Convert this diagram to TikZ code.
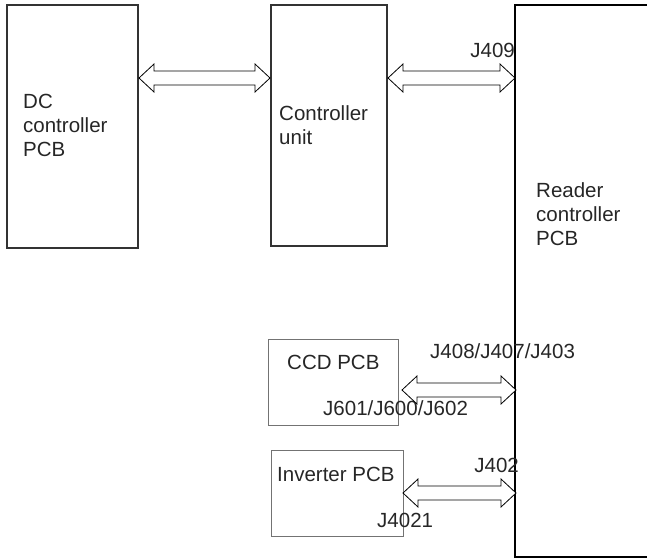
\documentclass[tikz,border=0pt]{standalone}
\usepackage{fontspec}
\setmainfont{Liberation Sans}
\usetikzlibrary{calc,positioning}

% hollow two-way bus arrow between two named points
\newcommand{\busarrow}[2]{%
  \draw[bus] (#1) -- ++(15,-14) -- ++(0,7) -- ($(#2)+(-15,-7)$) -- ++(0,-7)
    -- (#2) -- ++(-15,14) -- ++(0,-7) -- ($(#1)+(15,7)$) -- ++(0,7) -- cycle;
}

\begin{document}
\begin{tikzpicture}[
  x=1pt, y=-1pt,
  pcb/.style={draw=black!80, line width=1.5, minimum width=#1},
  subpcb/.style={draw=black!55, line width=0.9},
  lbl/.style={font=\fontsize{20.5}{24}\selectfont, text=black!85, inner sep=0pt, align=left},
  bus/.style={draw=black, line width=0.8, fill=white}
]
\useasboundingbox (0,0) rectangle (647,558);
\clip (0,0) rectangle (647,558);

% boxes
\node[pcb=131, minimum height=243] (dc) at (72.5,126.5) {};
\node[pcb=116, minimum height=241] (ctl) at (329,125.5) {};
\node[minimum width=300, minimum height=552, anchor=north west] (rdr) at (515,5) {};
\draw[line width=2] (rdr.north east) -- (rdr.north west) -- (rdr.south west) -- (rdr.south east);
\node[subpcb, minimum width=130, minimum height=86, anchor=north west] (ccd) at (268,339) {};
\node[subpcb, minimum width=132, minimum height=86, anchor=north west] (inv) at (271,450) {};

% box texts
\node[lbl, anchor=north west] (dc-t) at (23,94) {DC\\controller\\PCB};
\node[lbl, anchor=north west] (ctl-t) at (279,105) {Controller\\unit};
\node[lbl, anchor=north west] (rdr-t) at (536,182) {Reader\\controller\\PCB};
\node[lbl, anchor=north west] (ccd-t) at (287,355) {CCD PCB};
\node[lbl, anchor=north west] (inv-t) at (277,467) {Inverter PCB};

% connector names
\node[lbl, anchor=north east] (j409) at (515,43) {J409};
\node[lbl, anchor=north west] (j408) at (430,343) {J408/J407/J403};
\node[lbl, anchor=north west] (j601) at (323,400) {J601/J600/J602};
\node[lbl, anchor=north east] (j402) at (519,458) {J402};
\node[lbl, anchor=north west] (j4021) at (377,513) {J4021};

% ports
\coordinate (dc-p) at (139,78);
\coordinate (ctl-l) at (270,78);
\coordinate (ctl-r) at (388,78);
\coordinate (rdr-a) at (515,78);
\coordinate (ccd-p) at (402,390);
\coordinate (rdr-b) at (516,390);
\coordinate (inv-p) at (403,493);
\coordinate (rdr-c) at (516,493);

% buses
\foreach \a/\b in {dc-p/ctl-l, ctl-r/rdr-a, ccd-p/rdr-b, inv-p/rdr-c}
  {\busarrow{\a}{\b}}
\end{tikzpicture}
\end{document}
